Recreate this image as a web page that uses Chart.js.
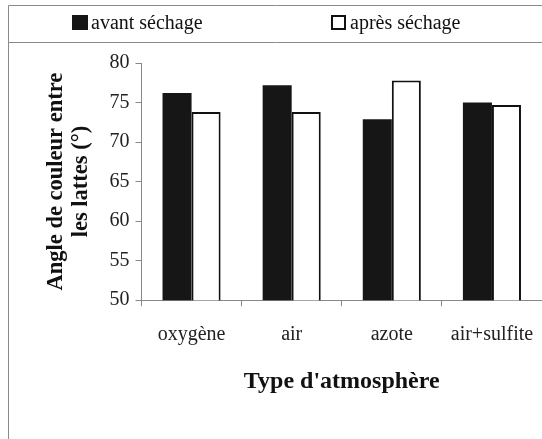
<!DOCTYPE html>
<html>
<head>
<meta charset="utf-8">
<script src="https://cdn.jsdelivr.net/npm/chart.js@4/dist/chart.umd.min.js"></script>
<style>
  html, body { margin: 0; padding: 0; background: #fff; }
  #wrap { width: 542px; height: 439px; }
</style>
</head>
<body>
<div id="wrap"><canvas id="dryChart" width="542" height="439"></canvas></div>
<script>
// data
const atmospheres = ['oxygène', 'air', 'azote', 'air+sulfite'];
const avantSechage = [76.2, 77.2, 72.9, 75.0];
const apresSechage = [73.8, 73.8, 77.8, 74.7];
const yTicks = [50, 55, 60, 65, 70, 75, 80];

const serif = "'Liberation Serif', serif";

// outer frame, line under the legend, and the legend itself
const framePlugin = {
    id: 'frame',
    beforeDraw(chart) {
        const c = chart.ctx;
        c.save();
        c.strokeStyle = '#8a8a8a';
        c.lineWidth = 1;
        c.beginPath();
        c.moveTo(8.5, 439);
        c.lineTo(8.5, 5.5);
        c.lineTo(542, 5.5);
        c.moveTo(8.5, 42.5);
        c.lineTo(542, 42.5);
        c.stroke();

        const items = [
            { x: 72, ds: chart.data.datasets[0] },
            { x: 331, ds: chart.data.datasets[1] }
        ];
        c.font = 'normal 20px ' + serif;
        c.textBaseline = 'alphabetic';
        items.forEach(function(it, i) {
            if (i === 0) {
                c.fillStyle = it.ds.backgroundColor;
                c.fillRect(it.x, 15, 16, 15);
            } else {
                c.fillStyle = '#fff';
                c.fillRect(it.x, 15, 15, 15);
                c.strokeStyle = '#111';
                c.lineWidth = 2;
                c.strokeRect(it.x + 1, 16, 13, 13);
            }
            c.fillStyle = '#111';
            c.fillText(it.ds.label, it.x + 19, 29);
        });
        c.restore();
    }
};

new Chart(document.getElementById('dryChart'), {
    type: 'bar',
    data: {
        labels: atmospheres,
        datasets: [{
            label: 'avant séchage',
            data: avantSechage,
            backgroundColor: '#161616',
            borderWidth: 0,
            barPercentage: 1,
            categoryPercentage: 0.58
        }, {
            label: 'après séchage',
            data: apresSechage,
            backgroundColor: '#ffffff',
            borderColor: '#111111',
            borderWidth: 2,
            barPercentage: 1,
            categoryPercentage: 0.58
        }]
    },
    options: {
        responsive: false,
        animation: false,
        layout: { padding: { left: 40, right: 0, top: 63, bottom: 39 } },
        plugins: {
            tooltip: { enabled: false },
            legend: { display: false }
        },
        scales: {
            x: {
                afterFit: function(scale) { scale.paddingRight = 0; },
                grid: { offset: true, drawOnChartArea: false, color: '#888', tickLength: 6 },
                border: { color: '#888' },
                ticks: { color: '#222', font: { family: serif, size: 20 }, padding: 17 },
                title: {
                    display: true,
                    text: "Type d'atmosphère",
                    color: '#111',
                    font: { family: serif, size: 24, weight: 'bold' },
                    padding: { top: 3 }
                }
            },
            y: {
                min: 50,
                max: 80,
                afterBuildTicks: function(axis) {
                    axis.ticks = yTicks.map(function(v) { return { value: v }; });
                },
                grid: { drawOnChartArea: false, color: '#888', tickLength: 6 },
                border: { color: '#888' },
                ticks: { color: '#222', font: { family: serif, size: 20 }, padding: 6, autoSkip: false },
                title: {
                    display: true,
                    text: ['Angle de couleur entre', 'les lattes (°)'],
                    color: '#111',
                    font: { family: serif, size: 22.5, weight: 'bold', lineHeight: 1.1 },
                    padding: { bottom: 10 }
                }
            }
        }
    },
    plugins: [framePlugin]
});
</script>
</body>
</html>
